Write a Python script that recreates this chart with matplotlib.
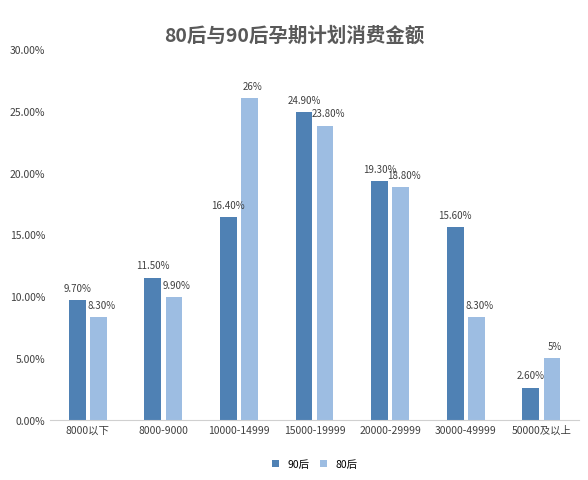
import matplotlib.pyplot as plt
import numpy as np

plt.rcParams['font.family'] = ['Noto Sans CJK SC', 'DejaVu Sans']

categories = ["8000以下", "8000-9000", "10000-14999", "15000-19999",
              "20000-29999", "30000-49999", "50000及以上"]
vals_90 = [9.7, 11.5, 16.4, 24.9, 19.3, 15.6, 2.6]
vals_80 = [8.3, 9.9, 26, 23.8, 18.8, 8.3, 5]
labels_90 = ["9.70%", "11.50%", "16.40%", "24.90%", "19.30%", "15.60%", "2.60%"]
labels_80 = ["8.30%", "9.90%", "26%", "23.80%", "18.80%", "8.30%", "5%"]

c90 = "#4f81b4"
c80 = "#9dbde2"

fig = plt.figure(figsize=(5.88, 4.81), dpi=100)
ax = fig.add_axes([0.085, 0.125, 0.9, 0.771])

x = np.arange(len(categories))
w = 0.22
b1 = ax.bar(x - w / 2 - 0.03, vals_90, w, color=c90, label="90后")
b2 = ax.bar(x + w / 2 + 0.03, vals_80, w, color=c80, label="80后")
for rect, lab in zip(b1, labels_90):
    ax.text(rect.get_x() + rect.get_width() / 2, rect.get_height() + 0.6, lab,
            ha='center', va='bottom', fontsize=7, color='#404040')
for rect, lab in zip(b2, labels_80):
    ax.text(rect.get_x() + rect.get_width() / 2 + 0.04, rect.get_height() + 0.6, lab,
            ha='center', va='bottom', fontsize=7, color='#404040')

ax.set_ylim(0, 30)
ax.set_xlim(-0.5, len(categories) - 0.5)
ax.set_yticks(np.arange(0, 31, 5))
ax.set_yticklabels([f"{v:.2f}%" for v in np.arange(0, 31, 5)], fontsize=7.5, color='#404040')
ax.set_xticks(x)
ax.set_xticklabels(categories, fontsize=7.5, color='#404040')
ax.tick_params(length=0)
for s in ['top', 'right', 'left']:
    ax.spines[s].set_visible(False)
ax.spines['bottom'].set_color('#d0d0d0')

fig.text(0.5, 0.925, "80后与90后孕期计划消费金额", ha='center', va='center',
         fontsize=14, fontweight='bold', color='#595959')
ax.legend(loc='upper center', bbox_to_anchor=(0.5, -0.08), ncol=2, frameon=False,
          fontsize=7.5, handlelength=0.7, handleheight=0.7, columnspacing=1.0)

fig.savefig("out.png", dpi=100, facecolor='white')
